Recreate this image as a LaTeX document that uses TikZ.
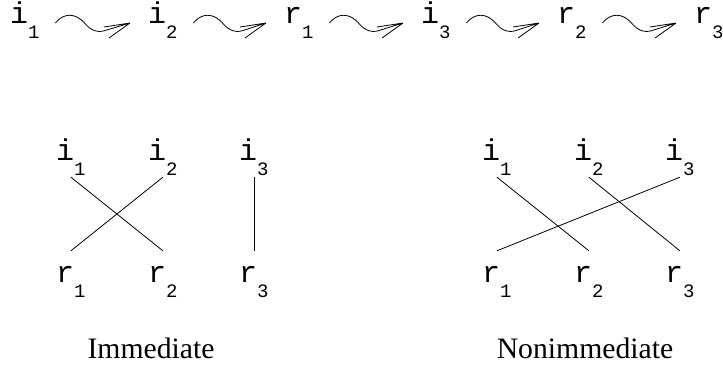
\documentclass[tikz,border=0pt]{standalone}
\usepackage{fontspec}
\setmainfont{Liberation Serif}
\setmonofont{Liberation Mono}
\usetikzlibrary{calc}
\newcommand{\ev}[2]{#1\raisebox{-15pt}{\fontsize{19}{19}\selectfont #2}}

\begin{document}
\begin{tikzpicture}[x=1pt, y=-1pt,
    ev/.style={inner sep=0pt, anchor=base west, font=\fontsize{30}{30}\selectfont\ttfamily},
    top/.style={ev, text depth=17pt},
    bot/.style={ev, text height=31pt},
    link/.style={line width=0.8pt},
    wave/.style={line width=0.8pt, to path={
        (\tikztostart) .. controls ($(\tikztostart)+(8,-10)$) and ($(\tikztostart)+(20,-11)$)
        .. ($(\tikztostart)+(30,1)$) .. controls ($(\tikztostart)+(36,8)$) and ($(\tikztostart)+(43,9.5)$)
        .. ($(\tikztostart)+(48,8)$) -- (\tikztotarget)
        -- ++(-26,4) (\tikztotarget) -- ++(-21,15)}},
    caption/.style={anchor=base, font=\fontsize{29.7}{30}\selectfont}
]
    \useasboundingbox (0,0) rectangle (723,368);

    % Sequence
    \node[ev] (s1) at (10,23) {\ev{i}{1}};
    \node[ev] (s2) at (148,23) {\ev{i}{2}};
    \node[ev] (s3) at (284,23) {\ev{r}{1}};
    \node[ev] (s4) at (421,23) {\ev{i}{3}};
    \node[ev] (s5) at (557,23) {\ev{r}{2}};
    \node[ev] (s6) at (694,23) {\ev{r}{3}};
    \foreach \a/\b in {s1/s2, s2/s3, s3/s4, s4/s5, s5/s6}
        \draw[wave] ([xshift=15.6pt]\a.base east) to ([xshift=-18pt]\b.base west);

    % Immediate
    \node[top] (li1) at (56,160) {\ev{i}{1}};
    \node[top] (li2) at (148,160) {\ev{i}{2}};
    \node[top] (li3) at (239,160) {\ev{i}{3}};
    \node[bot] (lr1) at (56,282) {\ev{r}{1}};
    \node[bot] (lr2) at (148,282) {\ev{r}{2}};
    \node[bot] (lr3) at (239,282) {\ev{r}{3}};
    \draw[link] (li1.south) -- (lr2.north);
    \draw[link] (li2.south) -- (lr1.north);
    \draw[link] (li3.south) -- (lr3.north);
    \node[caption] (imm) at (151,358) {Immediate};

    % Nonimmediate
    \node[top] (ri1) at (482,160) {\ev{i}{1}};
    \node[top] (ri2) at (574,160) {\ev{i}{2}};
    \node[top] (ri3) at (665,160) {\ev{i}{3}};
    \node[bot] (rr1) at (482,282) {\ev{r}{1}};
    \node[bot] (rr2) at (574,282) {\ev{r}{2}};
    \node[bot] (rr3) at (665,282) {\ev{r}{3}};
    \draw[link] (ri1.south) -- (rr2.north);
    \draw[link] (ri2.south) -- (rr3.north);
    \draw[link] (ri3.south) -- (rr1.north);
    \node[caption] (nonimm) at (585,358) {Nonimmediate};
\end{tikzpicture}
\end{document}
